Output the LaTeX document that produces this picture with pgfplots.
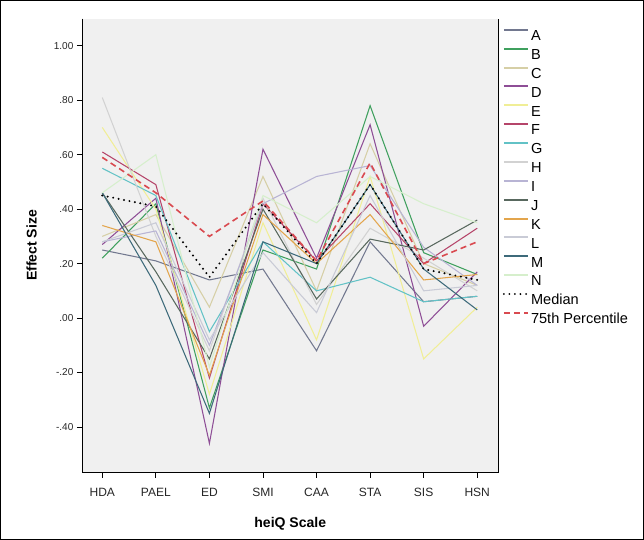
\documentclass[border=0pt]{standalone}
\usepackage{fontspec}
\setmainfont{Liberation Sans}
\usepackage{pgfplots}
\pgfplotsset{compat=1.18}

\definecolor{bgc}{RGB}{240,240,240}
\definecolor{cA}{RGB}{114,120,143}
\definecolor{cB}{RGB}{63,160,94}
\definecolor{cC}{RGB}{214,207,166}
\definecolor{cD}{RGB}{142,78,150}
\definecolor{cE}{RGB}{240,238,150}
\definecolor{cF}{RGB}{181,69,106}
\definecolor{cG}{RGB}{98,194,198}
\definecolor{cH}{RGB}{210,210,210}
\definecolor{cI}{RGB}{184,180,212}
\definecolor{cJ}{RGB}{88,104,94}
\definecolor{cK}{RGB}{227,165,76}
\definecolor{cL}{RGB}{201,203,214}
\definecolor{cM}{RGB}{61,106,122}
\definecolor{cN}{RGB}{214,239,204}
\definecolor{cP}{RGB}{217,74,80}

\begin{document}
\begin{tikzpicture}
\begin{axis}[
    scale only axis,
    width=414bp, height=451bp,
    xmin=-0.38, xmax=7.4,
    ymin=-0.567, ymax=1.10,
    xtick={0,...,7},
    xticklabels={HDA,PAEL,ED,SMI,CAA,STA,SIS,HSN},
    ytick={-0.4,-0.2,0,0.2,0.4,0.6,0.8,1.0},
    yticklabels={-.40,-.20,.00,.20,.40,.60,.80,1.00},
    tick align=outside, tick pos=left,
    major tick length=5bp,
    tick style={black, line width=0.7bp},
    xticklabel style={font=\fontsize{12}{12}\selectfont, text=black!85, yshift=-7bp},
    yticklabel style={font=\fontsize{10}{10}\selectfont, text=black!85},
    axis line style={draw=none},
    axis background/.style={fill=bgc},
    xlabel={\bfseries heiQ Scale},
    ylabel={\bfseries Effect Size},
    label style={font=\fontsize{14}{14}\selectfont},
    xlabel style={at={(rel axis cs:0.5,0)}, anchor=center, yshift=-51bp},
    ylabel style={at={(rel axis cs:0,0.5)}, anchor=center, yshift=50bp},
    no markers,
    every axis plot/.append style={line width=1.05bp, line join=miter},
    legend cell align=left,
    legend style={at={(1,1)}, anchor=north west, xshift=1bp, yshift=-8bp,
        draw=none, fill=none, font=\fontsize{14.5}{14.5}\selectfont,
        nodes={inner sep=1bp, text height=10.5bp, text depth=0bp},
        row sep=6bp, column sep=1bp},
    legend image code/.code={\draw[#1, line width=2bp] (0bp,5.5bp) -- (24bp,5.5bp);},
]
\addplot[cA] coordinates {(0,0.25) (1,0.21) (2,0.14) (3,0.18) (4,-0.12) (5,0.28) (6,0.06) (7,0.08)};
\addplot[cB] coordinates {(0,0.22) (1,0.42) (2,-0.33) (3,0.25) (4,0.18) (5,0.78) (6,0.24) (7,0.16)};
\addplot[cC] coordinates {(0,0.30) (1,0.38) (2,0.04) (3,0.52) (4,0.10) (5,0.64) (6,0.20) (7,0.12)};
\addplot[cD] coordinates {(0,0.27) (1,0.44) (2,-0.46) (3,0.62) (4,0.22) (5,0.71) (6,-0.03) (7,0.17)};
\addplot[cE] coordinates {(0,0.70) (1,0.40) (2,-0.28) (3,0.35) (4,-0.08) (5,0.52) (6,-0.15) (7,0.04)};
\addplot[cF] coordinates {(0,0.61) (1,0.49) (2,-0.22) (3,0.42) (4,0.21) (5,0.42) (6,0.20) (7,0.33)};
\addplot[cG] coordinates {(0,0.55) (1,0.45) (2,-0.05) (3,0.28) (4,0.10) (5,0.15) (6,0.06) (7,0.08)};
\addplot[cH] coordinates {(0,0.81) (1,0.30) (2,-0.12) (3,0.44) (4,0.05) (5,0.33) (6,0.22) (7,0.10)};
\addplot[cI] coordinates {(0,0.28) (1,0.32) (2,-0.10) (3,0.42) (4,0.52) (5,0.56) (6,0.26) (7,0.12)};
\addplot[cJ] coordinates {(0,0.46) (1,0.17) (2,-0.15) (3,0.40) (4,0.07) (5,0.29) (6,0.25) (7,0.36)};
\addplot[cK] coordinates {(0,0.34) (1,0.28) (2,-0.21) (3,0.38) (4,0.20) (5,0.38) (6,0.14) (7,0.16)};
\addplot[cL] coordinates {(0,0.28) (1,0.35) (2,-0.08) (3,0.24) (4,0.02) (5,0.45) (6,0.10) (7,0.12)};
\addplot[cM] coordinates {(0,0.46) (1,0.12) (2,-0.35) (3,0.28) (4,0.20) (5,0.49) (6,0.18) (7,0.03)};
\addplot[cN] coordinates {(0,0.46) (1,0.60) (2,-0.18) (3,0.45) (4,0.35) (5,0.52) (6,0.42) (7,0.35)};
\addplot[black, line width=2.2bp, line cap=round, dash pattern=on 0bp off 5.5bp] coordinates {(0,0.45) (1,0.41) (2,0.15) (3,0.42) (4,0.20) (5,0.49) (6,0.18) (7,0.14)};
\addplot[cP, line width=1.6bp, dash pattern=on 6bp off 4bp] coordinates {(0,0.59) (1,0.46) (2,0.30) (3,0.43) (4,0.21) (5,0.57) (6,0.20) (7,0.28)};
\legend{A,B,C,D,E,F,G,H,I,J,K,L,M,N,Median,75th Percentile}
\coordinate (sw) at (rel axis cs:0,0);
\coordinate (ne) at (rel axis cs:1,1);
\coordinate (se) at (rel axis cs:1,0);
\coordinate (nw) at (rel axis cs:0,1);
\end{axis}
\draw[black, line width=0.8bp] (nw) -- (sw) -- (se) -- (ne);
\draw[black, line width=0.8bp] ([xshift=-81bp,yshift=-66bp]sw) rectangle ([xshift=144bp,yshift=18bp]ne);
\end{tikzpicture}
\end{document}
